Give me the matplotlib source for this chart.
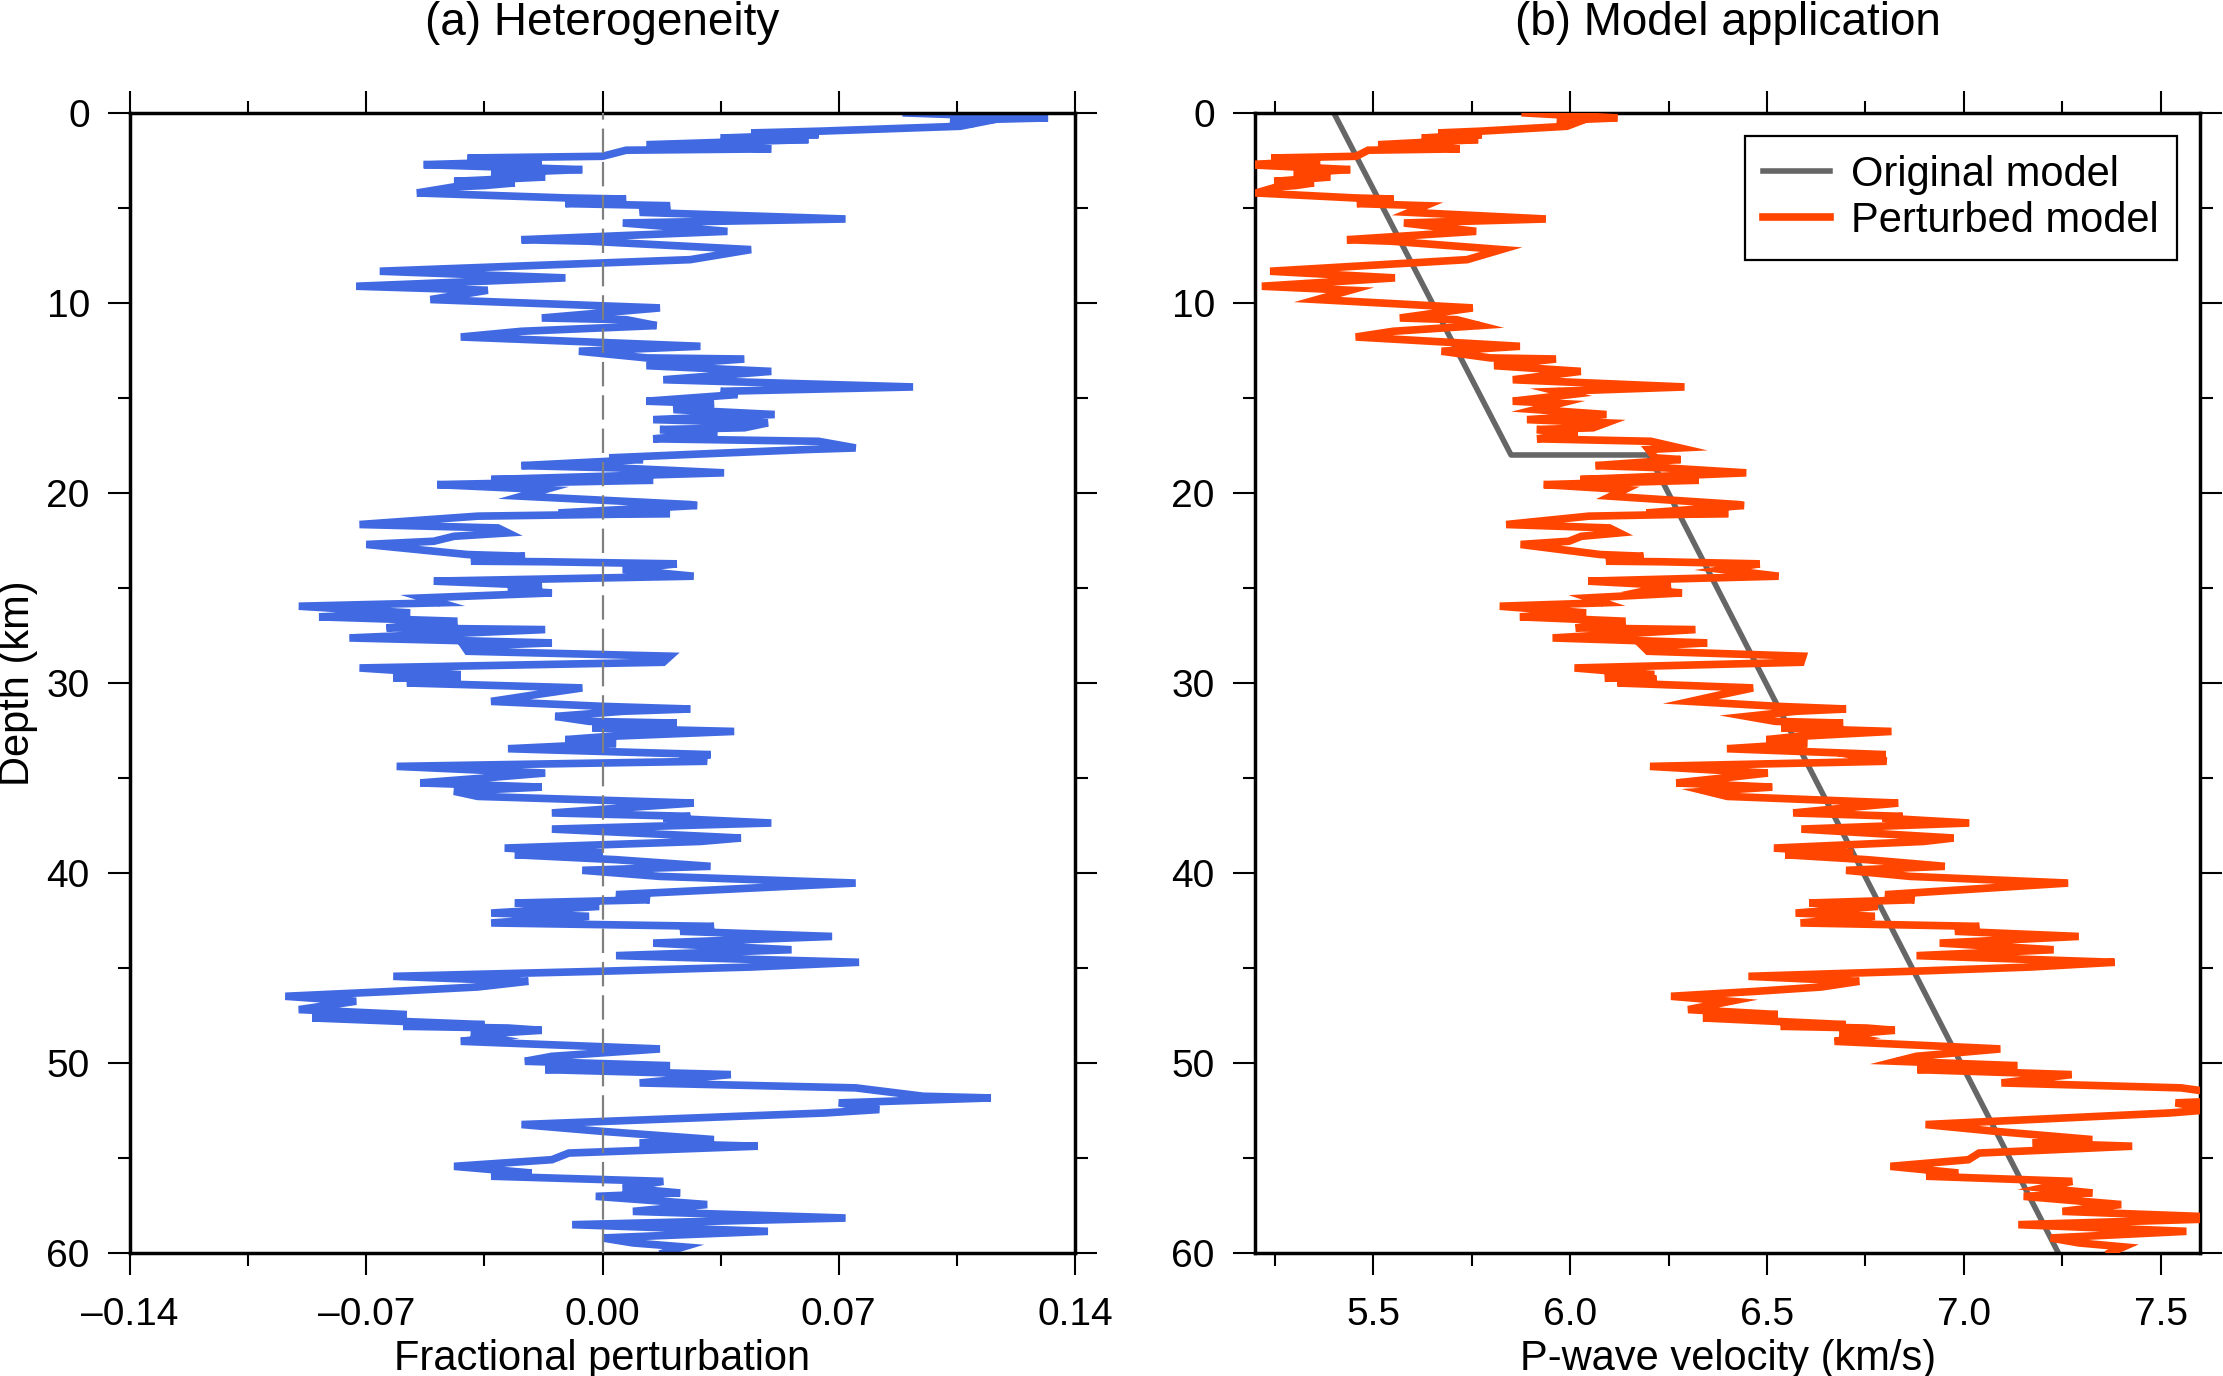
import numpy as np
import matplotlib
matplotlib.use('Agg')
import matplotlib.pyplot as plt
from matplotlib.ticker import MultipleLocator, FuncFormatter

plt.rcParams['font.family'] = ['Liberation Sans', 'DejaVu Sans']
plt.rcParams['font.size'] = 28

# Fractional perturbation profile
depth = [0.0, 0.26, 0.39, 0.56, 0.70, 0.96, 1.05, 1.14, 1.32, 1.40, 1.67, 1.89, 1.96, 2.28, 2.37,
         2.54, 2.72, 2.98, 3.16, 3.37, 3.60, 3.68, 3.82, 3.89, 4.21, 4.47, 4.53, 4.77, 4.88, 5.23,
         5.58, 5.79, 6.23, 6.67, 6.75, 7.19, 7.72, 8.33, 8.68, 9.12, 9.33, 9.82, 10.26, 10.79, 10.88,
         11.19, 11.49, 11.79, 12.28, 12.54, 12.89, 12.95, 13.30, 13.60, 14.04, 14.42, 14.65, 14.82,
         15.17, 15.29, 15.61, 15.87, 16.14, 16.31, 16.57, 16.66, 16.84, 17.15, 17.28, 17.63, 17.71,
         18.15, 18.24, 18.56, 18.68, 18.94, 19.29, 19.33, 19.56, 19.82, 20.17, 20.61, 20.66, 21.05,
         21.08, 21.22, 21.66, 21.84, 22.10, 22.28, 22.54, 22.71, 23.24, 23.33, 23.59, 23.62, 23.73,
         24.03, 24.38, 24.64, 24.87, 25.12, 25.26, 25.52, 25.78, 25.96, 26.31, 26.52, 26.75, 27.10,
         27.19, 27.63, 27.89, 28.07, 28.33, 28.59, 28.91, 29.21, 29.56, 29.73, 29.80, 30.00, 30.26,
         30.62, 30.97, 31.23, 31.37, 31.49, 31.76, 32.02, 32.11, 32.37, 32.55, 32.81, 32.98, 33.19,
         33.46, 33.77, 33.90, 34.12, 34.39, 34.74, 35.00, 35.26, 35.48, 35.70, 35.97, 36.32, 36.49,
         36.84, 37.02, 37.11, 37.37, 37.69, 38.16, 38.34, 38.69, 38.95, 39.04, 39.30, 39.65, 39.86,
         40.18, 40.53, 41.14, 41.41, 41.58, 41.76, 42.11, 42.28, 42.63, 42.81, 43.07, 43.34, 43.69,
         44.04, 44.35, 44.70, 44.95, 45.17, 45.44, 45.70, 46.00, 46.23, 46.49, 46.75, 47.19, 47.45,
         47.63, 47.98, 48.07, 48.16, 48.28, 48.51, 48.68, 48.86, 49.26, 49.65, 49.91, 50.14, 50.35,
         50.61, 51.05, 51.31, 51.75, 51.84, 52.10, 52.45, 52.63, 53.24, 53.60, 54.03, 54.21, 54.38,
         54.74, 55.09, 55.44, 55.79, 55.96, 56.23, 56.58, 56.84, 57.02, 57.45, 57.81, 58.16, 58.51,
         58.86, 59.21, 59.47, 59.68, 60.0]
perturb = [0.090, 0.132, 0.103, 0.110, 0.106, 0.064, 0.044, 0.064, 0.035, 0.061, 0.013, 0.050, 0.007,
           0.000, -0.040, -0.018, -0.053, -0.006, -0.033, -0.017, -0.044, -0.026, -0.035, -0.044,
           -0.055, -0.011, 0.007, -0.011, 0.020, 0.011, 0.072, 0.006, 0.037, -0.024, -0.004, 0.044,
           0.026, -0.066, -0.011, -0.073, -0.034, -0.051, 0.017, -0.018, 0.007, 0.016, -0.024, -0.042,
           0.029, -0.007, 0.013, 0.042, 0.013, 0.050, 0.018, 0.092, 0.035, 0.040,
           0.013, 0.033, 0.021, 0.051, 0.015, 0.049, 0.042, 0.017, 0.034, 0.015, 0.064, 0.075, 0.061,
           0.002, 0.012, -0.024, 0.004, 0.036, -0.033, 0.015, -0.049, -0.017, -0.024, 0.026, 0.028,
           -0.013, 0.020, -0.037, -0.072, -0.031, -0.028, -0.044, -0.050, -0.070, -0.040, -0.023,
           -0.039, -0.017, 0.022, 0.006, 0.027, -0.050, -0.018, -0.028, -0.015, -0.053, -0.048, -0.090,
           -0.057, -0.084, -0.043, -0.064, -0.017, -0.075, -0.015, -0.041, -0.040, 0.020, 0.018,
           -0.072, -0.042, -0.062, -0.042, -0.058, -0.006, -0.020, -0.033, 0.000, 0.026, 0.006,
           -0.014, -0.004, 0.022, -0.003, 0.039, 0.002, -0.011, 0.004, -0.028, 0.032, 0.023, 0.031,
           -0.061, -0.017, -0.035, -0.054, -0.018, -0.044, -0.037, 0.027, 0.013, -0.015, 0.026, 0.018,
           0.050, -0.015, 0.041, 0.029, -0.029, 0.000, -0.026, 0.004, 0.032, -0.006, 0.017, 0.075,
           0.004, 0.014, -0.026, -0.001, -0.033, -0.004, -0.033, 0.033, 0.023, 0.068, 0.015, 0.056,
           0.004, 0.076, 0.044, 0.000, -0.062, -0.022, -0.037, -0.062, -0.094, -0.073, -0.090, -0.058,
           -0.086, -0.035, -0.059, -0.028, -0.018, -0.039, -0.033, -0.042, 0.017, -0.015, -0.023,
           0.020, -0.017, 0.038, 0.011, 0.075, 0.095, 0.115, 0.070, 0.082, 0.066, -0.024, 0.000,
           0.033, 0.011, 0.046, -0.010, -0.015, -0.044, -0.021, -0.033, 0.018, 0.006, 0.023, -0.002,
           0.031, 0.009, 0.072, -0.009, 0.049, 0.000, 0.009, 0.024, 0.018]

# Original 1-D velocity model (two linear pieces with a step at 18 km)
crust_depth = [0.0, 18.0]
crust_vp = [5.40, 5.85]
mantle_depth = [18.0, 60.0]
mantle_vp = [6.20, 7.24]

depth = np.array(depth)
perturb = np.array(perturb)
vp0 = np.where(depth < 18.0,
               np.interp(depth, crust_depth, crust_vp),
               np.interp(depth, mantle_depth, mantle_vp))
vp_pert = vp0 * (1.0 + perturb)

blue = '#4169E1'
orange = '#FF4500'
grey = '#666666'

fig = plt.figure(figsize=(22.23, 13.76), dpi=100)
axa = fig.add_axes([0.0585, 0.0894, 0.4251, 0.8285])
axb = fig.add_axes([0.5646, 0.0894, 0.4251, 0.8285])


def dash_fmt(fmt):
    # GMT style labels use a long dash for negatives
    return FuncFormatter(lambda v, p: (fmt % v).replace('-', '\u2013'))


def style(ax):
    for s in ax.spines.values():
        s.set_linewidth(2.5)
    ax.tick_params(which='both', direction='out', top=True, right=True,
                   labeltop=False, labelright=False, width=1.5, labelsize=28, pad=13)
    ax.tick_params(axis='x', pad=16)
    ax.tick_params(which='major', length=16)
    ax.tick_params(which='minor', length=9)
    ax.set_ylim(60, 0)
    ax.yaxis.set_major_locator(MultipleLocator(10))
    ax.yaxis.set_minor_locator(MultipleLocator(5))


# (a) heterogeneity
style(axa)
axa.plot(perturb, depth, color=blue, lw=5.5, solid_joinstyle='miter', zorder=2)
axa.axvline(0, color='#808080', lw=1.6, linestyle=(0, (11, 4)), zorder=3)
axa.set_xlim(-0.14, 0.14)
axa.xaxis.set_major_locator(MultipleLocator(0.07))
axa.xaxis.set_minor_locator(MultipleLocator(0.035))
axa.xaxis.set_major_formatter(dash_fmt('%.2f'))
axa.set_xlabel('Fractional perturbation', fontsize=30, labelpad=4)
axa.set_ylabel('Depth (km)', fontsize=30)
axa.yaxis.set_label_coords(-0.097, 0.5)
axa.text(0.5, 1.068, '(a) Heterogeneity', transform=axa.transAxes,
         ha='center', va='baseline', fontsize=33)

# (b) model application
style(axb)
axb.plot(np.concatenate([np.interp([0, 18], crust_depth, crust_vp), mantle_vp]),
         crust_depth + mantle_depth, color=grey, lw=4, label='Original model', zorder=2)
axb.plot(vp_pert, depth, color=orange, lw=5.5, solid_joinstyle='miter',
         label='Perturbed model', zorder=3)
axb.set_xlim(5.2, 7.6)
axb.xaxis.set_major_locator(MultipleLocator(0.5))
axb.xaxis.set_minor_locator(MultipleLocator(0.25))
axb.xaxis.set_major_formatter(dash_fmt('%.1f'))
axb.set_xlabel('P-wave velocity (km/s)', fontsize=30, labelpad=4)
axb.text(0.5, 1.068, '(b) Model application', transform=axb.transAxes,
         ha='center', va='baseline', fontsize=33)
leg = axb.legend(loc='upper right', fontsize=30, frameon=True, fancybox=False,
                 edgecolor='black', framealpha=1, borderaxespad=0.55,
                 handlelength=1.6, handletextpad=0.5, labelspacing=0.15, borderpad=0.45)
leg.get_frame().set_linewidth(1.6)

fig.savefig('out.png', dpi=100)
